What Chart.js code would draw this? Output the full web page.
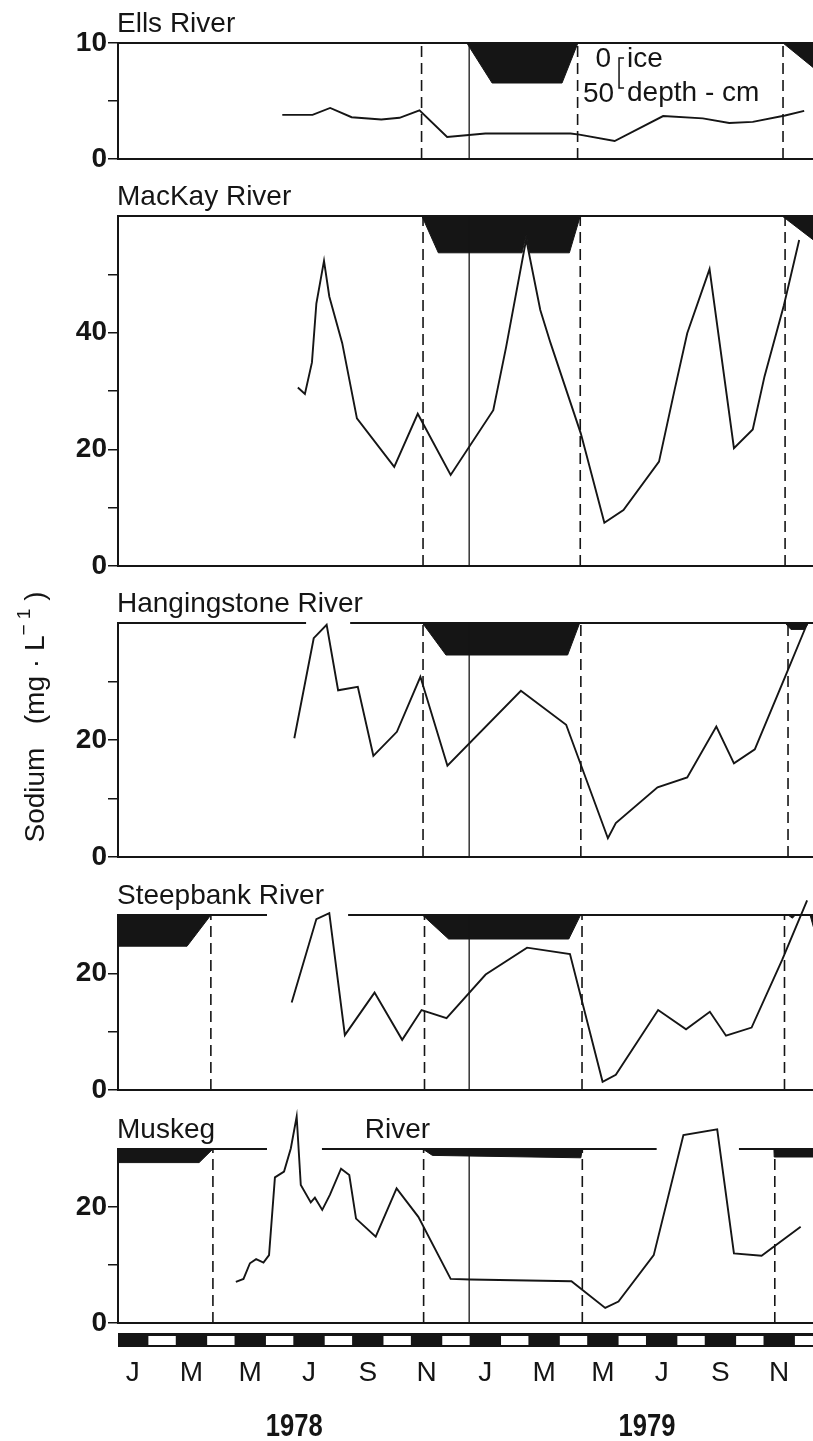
<!DOCTYPE html>
<html>
<head>
<meta charset="utf-8">
<script src="https://cdn.jsdelivr.net/npm/chart.js@4.4.0/dist/chart.umd.min.js"></script>
<style>
html, body { margin: 0; padding: 0; background: #fff; }
#wrap { position: relative; width: 813px; height: 1441px; overflow: hidden; }
#wrap canvas { position: absolute; left: 0; }
</style>
</head>
<body>
<div id="wrap"></div>
<script>
// time axis in months counted from 1 Jan 1978
const monthLetters = ['J', 'M', 'M', 'J', 'S', 'N', 'J', 'M', 'M', 'J', 'S', 'N'];
const yearLabels = ['1978', '1979'];
const yearMid = [6, 18];

// sodium, mg/L
const ellsMonth = [5.59, 6.62, 7.22, 7.95, 8.96, 9.58, 10.26, 11.2, 12.5, 15.4, 15.7, 16.9, 18.55, 19.9, 20.8, 21.6, 22.7, 23.35];
const ellsNa    = [3.8, 3.8, 4.4, 3.6, 3.4, 3.55, 4.2, 1.9, 2.2, 2.2, 2.1, 1.55, 3.7, 3.5, 3.1, 3.2, 3.75, 4.15];

const mackayMonth = [6.12, 6.36, 6.6, 6.75, 7.01, 7.19, 7.63, 8.13, 9.4, 10.2, 11.32, 12.77, 13.21, 13.89, 14.37, 14.72, 15.75, 16.55, 17.2, 18.41, 18.94, 19.37, 20.13, 20.96, 21.6, 22.0, 22.66, 23.18];
const mackayNa    = [30.6, 29.5, 34.9, 45.0, 52.3, 46.2, 38.2, 25.3, 17.0, 26.1, 15.6, 26.7, 37.6, 56.0, 43.9, 38.2, 22.7, 7.4, 9.6, 17.9, 30.2, 39.9, 50.9, 20.2, 23.4, 32.5, 44.7, 55.9];

const hangMonth = [6.0, 6.66, 7.1, 7.49, 8.16, 8.69, 9.49, 10.29, 11.21, 13.71, 15.25, 16.67, 16.94, 18.36, 19.37, 20.36, 20.96, 21.67, 22.7, 23.46];
const hangNa    = [20.3, 37.4, 39.7, 28.5, 29.1, 17.3, 21.4, 30.8, 15.6, 28.4, 22.6, 3.2, 5.8, 11.9, 13.6, 22.3, 16.0, 18.4, 30.8, 40.0];

const steepMonth = [5.91, 6.75, 7.19, 7.72, 8.73, 9.67, 10.33, 11.18, 12.51, 13.92, 15.38, 16.49, 16.94, 18.38, 19.33, 20.14, 20.69, 21.56, 22.6, 23.45];
const steepNa    = [15.0, 29.3, 30.3, 9.4, 16.7, 8.6, 13.7, 12.3, 19.8, 24.4, 23.3, 1.4, 2.6, 13.7, 10.4, 13.4, 9.3, 10.7, 22.3, 32.5];

const muskMonth = [4.01, 4.27, 4.49, 4.7, 4.95, 5.14, 5.34, 5.65, 5.88, 6.08, 6.22, 6.56, 6.7, 6.95, 7.21, 7.59, 7.87, 8.1, 8.77, 9.48, 10.22, 11.32, 11.98, 15.43, 16.58, 17.03, 18.23, 19.24, 20.39, 20.96, 21.9, 23.23];
const muskNa    = [7.1, 7.6, 10.3, 11.0, 10.4, 11.7, 25.1, 26.1, 30.1, 35.6, 23.8, 20.8, 21.6, 19.5, 22.1, 26.6, 25.5, 18.0, 14.9, 23.2, 18.3, 7.6, 7.5, 7.2, 2.6, 3.7, 11.7, 32.4, 33.4, 12.0, 11.6, 16.6];

// ice on / ice off (dashed) and year change (solid)
const ellsIceDates   = [10.33, 15.64, 22.63];
const mackayIceDates = [10.38, 15.73, 22.7];
const hangIceDates   = [10.38, 15.75, 22.8];
const steepIceDates  = [3.16, 10.43, 15.79, 22.68];
const muskIceDates   = [3.23, 10.4, 15.8, 22.35];
const yearStart = 11.95;

// ice thickness profiles: [month, depth cm]
const ellsIce = [
  [[11.87, 0], [12.73, 50], [15.11, 50], [15.65, 0]],
  [[22.63, 0], [23.7, 32]]
];
const mackayIce = [
  [[10.34, 0], [10.9, 46], [13.75, 46], [13.89, 24], [14.01, 46], [15.36, 46], [15.73, 0]],
  [[22.6, 0], [23.7, 31]]
];
const hangIce = [
  [[10.36, 0], [11.16, 40], [15.3, 40], [15.71, 0]],
  [[22.7, 0], [22.9, 8], [23.35, 8], [23.5, 0]]
];
const steepIce = [
  [[0, 39], [2.35, 39], [3.16, 0]],
  [[10.36, 0], [11.25, 30], [15.34, 30], [15.74, 0]],
  [[22.8, 0], [22.95, 4], [23.05, 0]],
  [[23.55, 0], [23.7, 20]]
];
const muskIce = [
  [[0, 17], [2.76, 17], [3.23, 0]],
  [[10.37, 0], [10.7, 8], [15.75, 11], [15.8, 0]],
  [[22.32, 0], [22.33, 10], [23.7, 10]]
];

const X_MAX = 23.65;
const CM_PX = 0.8;       // ice scale: 50 cm = 40 px
const INK = '#151515';
const FONT = "'Liberation Sans', Arial, sans-serif";
const TOP_PAD = 45;

const panels = [
  { title: [['Ells River', 0]], top: 43, h: 116, yMax: 10, yTicks: [0, 5, 10], yLabels: [0, 10],
    month: ellsMonth, na: ellsNa, dates: ellsIceDates, ice: ellsIce, gaps: [], legend: true },
  { title: [['MacKay River', 0]], top: 216, h: 350, yMax: 60, yTicks: [0, 10, 20, 30, 40, 50], yLabels: [0, 20, 40],
    month: mackayMonth, na: mackayNa, dates: mackayIceDates, ice: mackayIce, gaps: [] },
  { title: [['Hangingstone River', 0]], top: 623, h: 234, yMax: 40, yTicks: [0, 10, 20, 30], yLabels: [0, 20],
    month: hangMonth, na: hangNa, dates: hangIceDates, ice: hangIce, gaps: [[6.4, 7.9]], yTitle: true },
  { title: [['Steepbank River', 0]], top: 915, h: 175, yMax: 30, yTicks: [0, 10, 20], yLabels: [0, 20],
    month: steepMonth, na: steepNa, dates: steepIceDates, ice: steepIce, gaps: [[5.07, 7.83]] },
  { title: [['Muskeg', 0], ['River', 8.4]], top: 1149, h: 174, yMax: 30, yTicks: [0, 10, 20], yLabels: [0, 20],
    month: muskMonth, na: muskNa, dates: muskIceDates, ice: muskIce, gaps: [[5.07, 6.94], [18.33, 21.13]], last: true }
];

const wrap = document.getElementById('wrap');

function topFrame(p) {
  const pts = [{ x: 0, y: p.yMax }];
  p.gaps.forEach(([a, b]) => {
    pts.push({ x: a, y: p.yMax }, { x: (a + b) / 2, y: null }, { x: b, y: p.yMax });
  });
  pts.push({ x: X_MAX, y: p.yMax });
  return pts;
}

const panelText = {
  id: 'panelText',
  afterDraw(chart, args, opts) {
    const p = opts.panel;
    const { ctx, chartArea } = chart;
    const xs = chart.scales.x;
    ctx.save();
    ctx.fillStyle = INK;
    ctx.strokeStyle = INK;
    ctx.font = '28px ' + FONT;
    ctx.textBaseline = 'alphabetic';
    ctx.textAlign = 'left';
    p.title.forEach(([t, m]) => {
      ctx.fillText(t, m === 0 ? chartArea.left - 1 : xs.getPixelForValue(m), chartArea.top - 11);
    });

    if (p.legend) {
      const bx = xs.getPixelForValue(17.05);
      const t = chartArea.top;
      ctx.textAlign = 'right';
      ctx.fillText('0', bx - 8, t + 24);
      ctx.fillText('50', bx - 5, t + 59);
      ctx.textAlign = 'left';
      ctx.fillText('ice', bx + 8, t + 24);
      ctx.fillText('depth - cm', bx + 8, t + 58);
      ctx.lineWidth = 1.5;
      ctx.beginPath();
      ctx.moveTo(bx + 5, t + 15);
      ctx.lineTo(bx, t + 15);
      ctx.lineTo(bx, t + 45);
      ctx.lineTo(bx + 5, t + 45);
      ctx.stroke();
    }

    if (p.yTitle) {
      const cy = 717 - (p.top - TOP_PAD);
      ctx.translate(44, cy);
      ctx.rotate(-Math.PI / 2);
      const main = 'Sodium   (mg \u00b7 L';
      ctx.font = '28px ' + FONT;
      const w1 = ctx.measureText(main).width;
      ctx.font = '19px ' + FONT;
      const w2 = ctx.measureText('\u2212 1').width;
      ctx.font = '28px ' + FONT;
      const w3 = ctx.measureText(' )').width;
      let x = -(w1 + w2 + w3) / 2;
      ctx.fillText(main, x, 0);
      x += w1;
      ctx.font = '19px ' + FONT;
      ctx.fillText('\u2212 1', x, -14);
      x += w2;
      ctx.font = '28px ' + FONT;
      ctx.fillText(' )', x, 0);
    }

    if (p.last) {
      // alternating month bar under the time axis
      const y0 = chartArea.bottom + 10, hBar = 14;
      ctx.fillRect(chartArea.left, y0, chartArea.right - chartArea.left, hBar);
      ctx.fillStyle = '#fff';
      for (let m = 1; m < 24; m += 2) {
        const x1 = xs.getPixelForValue(m);
        const x2 = Math.min(xs.getPixelForValue(m + 1), chartArea.right + 5);
        if (x1 < chartArea.right) ctx.fillRect(x1 + 1, y0 + 3, x2 - x1 - 2, hBar - 5);
      }
      ctx.fillStyle = INK;
      ctx.font = 'bold 32px ' + FONT;
      ctx.textAlign = 'center';
      yearLabels.forEach((yl, i) => {
        // squeeze horizontally to mimic the condensed year figures
        ctx.save();
        ctx.translate(xs.getPixelForValue(yearMid[i]), chartArea.bottom + 113);
        ctx.scale(0.8, 1);
        ctx.fillText(yl, 0, 0);
        ctx.restore();
      });
    }
    ctx.restore();
  }
};

panels.forEach(p => {
  const bottomPad = p.last ? 1441 - (p.top + p.h) : 25;
  const canvas = document.createElement('canvas');
  canvas.width = 813;
  canvas.height = p.h + TOP_PAD + bottomPad;
  canvas.style.top = (p.top - TOP_PAD) + 'px';
  wrap.appendChild(canvas);

  const unitPx = p.h / p.yMax;
  const datasets = [];

  datasets.push({
    data: p.month.map((m, i) => ({ x: m, y: p.na[i] })),
    borderColor: INK, borderWidth: 1.9, clip: false
  });
  p.dates.forEach(d => datasets.push({
    data: [{ x: d, y: 0 }, { x: d, y: p.yMax }],
    borderColor: INK, borderWidth: 1.6, borderDash: [11, 6]
  }));
  datasets.push({
    data: [{ x: yearStart, y: 0 }, { x: yearStart, y: p.yMax }],
    borderColor: INK, borderWidth: 1.3
  });
  datasets.push({
    data: topFrame(p), borderColor: INK, borderWidth: 2, spanGaps: false, clip: false
  });
  p.ice.forEach(prof => datasets.push({
    data: prof.map(([m, cm]) => ({ x: m, y: p.yMax - cm * CM_PX / unitPx })),
    borderColor: INK, backgroundColor: INK, borderWidth: 1,
    fill: { value: p.yMax }
  }));

  new Chart(canvas, {
    type: 'line',
    data: { datasets },
    options: {
      responsive: false,
      animation: false,
      devicePixelRatio: 1,
      layout: { padding: { top: TOP_PAD, left: 0, right: 0, bottom: 0 } },
      elements: { point: { radius: 0 }, line: { tension: 0 } },
      plugins: {
        legend: { display: false },
        tooltip: { enabled: false },
        panelText: { panel: p }
      },
      scales: {
        x: {
          type: 'linear', min: 0, max: X_MAX,
          afterBuildTicks: s => { s.ticks = p.last ? monthLetters.map((_, i) => ({ value: 0.5 + 2 * i })) : []; },
          afterFit: s => { s.height = bottomPad; s.paddingLeft = 0; s.paddingRight = 0; },
          ticks: {
            display: !!p.last, autoSkip: false, maxRotation: 0, padding: 33, color: INK,
            font: { family: FONT, size: 28 },
            callback: (v, i) => monthLetters[i]
          },
          grid: { display: false, drawTicks: false },
          border: { display: true, color: INK, width: 2 }
        },
        y: {
          min: 0, max: p.yMax,
          afterBuildTicks: s => { s.ticks = p.yTicks.map(v => ({ value: v })); },
          afterFit: s => { s.width = 118; s.paddingTop = 0; s.paddingBottom = 0; },
          ticks: {
            padding: 1, color: INK,
            font: { family: FONT, size: 28, weight: 'bold' },
            callback: v => (p.yLabels.includes(v) ? String(v) : '')
          },
          grid: { drawOnChartArea: false, drawTicks: true, tickLength: 10, color: INK, lineWidth: 1.5 },
          border: { display: true, color: INK, width: 2 }
        }
      }
    },
    plugins: [panelText]
  });
});
</script>
</body>
</html>
